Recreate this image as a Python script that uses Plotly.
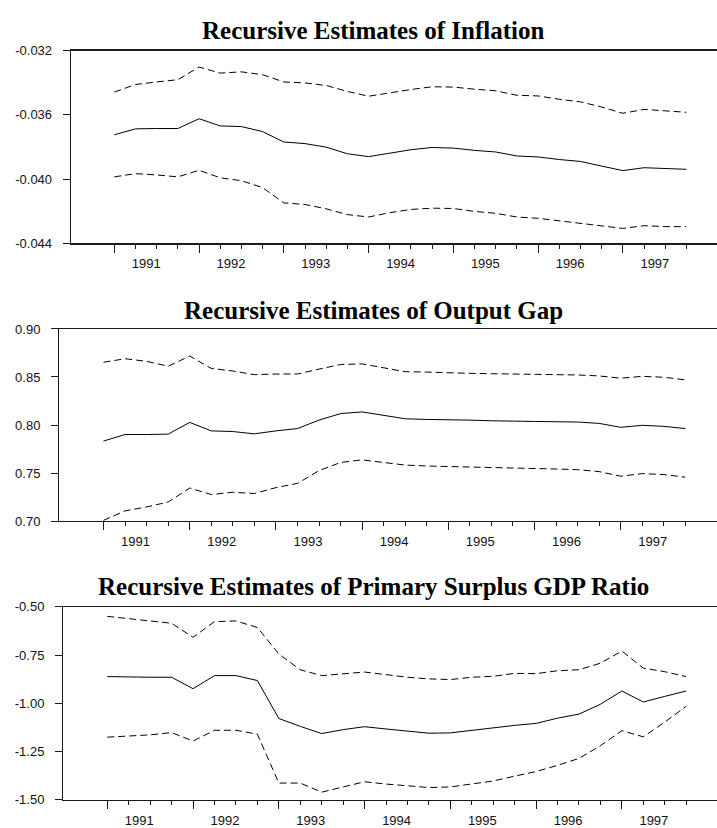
import plotly.graph_objects as go

# ---------------- data ----------------
quarters = [
    "1991Q1", "1991Q2", "1991Q3", "1991Q4",
    "1992Q1", "1992Q2", "1992Q3", "1992Q4",
    "1993Q1", "1993Q2", "1993Q3", "1993Q4",
    "1994Q1", "1994Q2", "1994Q3", "1994Q4",
    "1995Q1", "1995Q2", "1995Q3", "1995Q4",
    "1996Q1", "1996Q2", "1996Q3", "1996Q4",
    "1997Q1", "1997Q2", "1997Q3", "1997Q4",
]
year_labels = ["1991", "1992", "1993", "1994", "1995", "1996", "1997"]

infl_est = [-0.03724, -0.03687, -0.03685, -0.03685, -0.03624, -0.03669, -0.03673,
            -0.03704, -0.03769, -0.03779, -0.03801, -0.03842, -0.03860, -0.03838,
            -0.03817, -0.03803, -0.03807, -0.03821, -0.03831, -0.03856, -0.03862,
            -0.03878, -0.03890, -0.03919, -0.03947, -0.03929, -0.03935, -0.03939]
infl_upper = [-0.03458, -0.03411, -0.03395, -0.03381, -0.03302, -0.03340, -0.03332,
              -0.03350, -0.03395, -0.03401, -0.03417, -0.03454, -0.03484, -0.03462,
              -0.03442, -0.03425, -0.03427, -0.03440, -0.03450, -0.03478, -0.03482,
              -0.03503, -0.03519, -0.03551, -0.03590, -0.03566, -0.03574, -0.03584]
infl_lower = [-0.03986, -0.03966, -0.03974, -0.03986, -0.03945, -0.03992, -0.04010,
              -0.04053, -0.04148, -0.04158, -0.04185, -0.04221, -0.04236, -0.04209,
              -0.04189, -0.04181, -0.04183, -0.04201, -0.04213, -0.04236, -0.04244,
              -0.04260, -0.04272, -0.04290, -0.04307, -0.04290, -0.04296, -0.04296]

gap_est = [0.7833, 0.7901, 0.7901, 0.7905, 0.8027, 0.7939, 0.7932,
           0.7908, 0.7939, 0.7963, 0.8051, 0.8119, 0.8136, 0.8102,
           0.8065, 0.8058, 0.8058, 0.8051, 0.8044, 0.8044, 0.8037,
           0.8034, 0.8031, 0.8017, 0.7976, 0.7997, 0.7986, 0.7963]
gap_upper = [0.8653, 0.8690, 0.8663, 0.8612, 0.8718, 0.8589, 0.8562,
             0.8524, 0.8531, 0.8531, 0.8582, 0.8630, 0.8636, 0.8592,
             0.8555, 0.8551, 0.8548, 0.8538, 0.8534, 0.8531, 0.8528,
             0.8524, 0.8521, 0.8511, 0.8487, 0.8507, 0.8497, 0.8470]
gap_lower = [0.7007, 0.7106, 0.7147, 0.7198, 0.7344, 0.7276, 0.7300,
             0.7287, 0.7348, 0.7392, 0.7525, 0.7610, 0.7637, 0.7610,
             0.7583, 0.7573, 0.7569, 0.7563, 0.7559, 0.7552, 0.7549,
             0.7542, 0.7535, 0.7515, 0.7467, 0.7494, 0.7484, 0.7457]

surp_est = [-0.8616, -0.8650, -0.8650, -0.8650, -0.9244, -0.8565, -0.8565,
            -0.8820, -1.0790, -1.1197, -1.1570, -1.1367, -1.1214, -1.1333,
            -1.1452, -1.1553, -1.1536, -1.1400, -1.1299, -1.1146, -1.1044,
            -1.0772, -1.0560, -1.0050, -0.9363, -0.9932, -0.9643, -0.9363]
surp_upper = [-0.5492, -0.5611, -0.5713, -0.5849, -0.6579, -0.5764, -0.5730,
              -0.6070, -0.7445, -0.8260, -0.8566, -0.8480, -0.8379, -0.8514,
              -0.8650, -0.8735, -0.8769, -0.8650, -0.8600, -0.8447, -0.8464,
              -0.8311, -0.8260, -0.7920, -0.7292, -0.8175, -0.8362, -0.8616]
surp_lower = [-1.1757, -1.1706, -1.1638, -1.1520, -1.1960, -1.1400, -1.1400,
              -1.1604, -1.4138, -1.4138, -1.4610, -1.4340, -1.4070, -1.4190,
              -1.4290, -1.4370, -1.4340, -1.4170, -1.4030, -1.3780, -1.3540,
              -1.3220, -1.2860, -1.2200, -1.1420, -1.1740, -1.0977, -1.0153]

titles = ["Recursive Estimates of Inflation",
          "Recursive Estimates of Output Gap",
          "Recursive Estimates of Primary Surplus GDP Ratio"]

infl_ticks = [-0.044, -0.040, -0.036, -0.032]
infl_ticktext = ["-0.044", "-0.040", "-0.036", "-0.032"]
gap_ticks = [0.70, 0.75, 0.80, 0.85, 0.90]
gap_ticktext = ["0.70", "0.75", "0.80", "0.85", "0.90"]
surp_ticks = [-1.50, -1.25, -1.00, -0.75, -0.50]
surp_ticktext = ["-1.50", "-1.25", "-1.00", "-0.75", "-0.50"]

# ---------------- layout helpers ----------------
W, H = 717, 828


def qpos(q):
    return int(q[:4]) + (int(q[-1]) - 1) * 0.25


xq = [qpos(q) for q in quarters]
year_pos = [float(y) for y in year_labels]

# per panel geometry in pixels: left axis, top, bottom, x of first point, quarter spacing, title centre y
panels = [
    dict(est=infl_est, up=infl_upper, lo=infl_lower, yr=[-0.044, -0.032],
         tv=infl_ticks, tt=infl_ticktext, left=71.0, top=44.5, bottom=241.0,
         first=114.3, step=21.19, ty=23.5),
    dict(est=gap_est, up=gap_upper, lo=gap_lower, yr=[0.70, 0.90],
         tv=gap_ticks, tt=gap_ticktext, left=59.3, top=328.3, bottom=524.2,
         first=103.5, step=21.55, ty=309.0),
    dict(est=surp_est, up=surp_upper, lo=surp_lower, yr=[-1.50, -0.50],
         tv=surp_ticks, tt=surp_ticktext, left=63.3, top=611.7, bottom=808.3,
         first=107.3, step=21.44, ty=591.0),
]

tick_font = dict(family="Liberation Sans, Arial, sans-serif", size=13, color="#111111")
title_font = dict(family="Liberation Serif, Times New Roman, serif", size=25, color="#000000")
axis_col = "#1a1a1a"

fig = go.Figure()
annotations = []
layout_axes = {}

for k, p in enumerate(panels):
    n = k + 1
    xa = "x" if n == 1 else f"x{n}"
    ya = "y" if n == 1 else f"y{n}"
    xkey = "xaxis" if n == 1 else f"xaxis{n}"
    ykey = "yaxis" if n == 1 else f"yaxis{n}"

    for series, dash in ((p["up"], "7px,4px"), (p["lo"], "7px,4px"), (p["est"], "solid")):
        fig.add_trace(go.Scatter(
            x=xq, y=series, mode="lines", xaxis=xa, yaxis=ya,
            line=dict(color="black", width=1, dash=dash),
            showlegend=False, hoverinfo="skip"))

    # x range: map pixels to quarter positions
    t_left = (p["left"] - p["first"]) / p["step"]
    t_right = (W - p["first"]) / p["step"]
    x0 = 1991 + 0.25 * t_left
    x1 = 1991 + 0.25 * t_right

    yspan = p["yr"][1] - p["yr"][0]
    eps = yspan * 1e-6

    layout_axes[xkey] = dict(
        domain=[p["left"] / W, 1.0], range=[x0, x1], anchor=ya,
        showline=True, linecolor=axis_col, linewidth=1.3, mirror=True,
        showgrid=False, zeroline=False,
        tickmode="array", tickvals=year_pos, ticktext=year_labels,
        ticks="outside", ticklen=8, tickwidth=1, tickcolor=axis_col,
        ticklabelshift=int(round(1.5 * p["step"])), tickfont=tick_font,
        minor=dict(tickmode="array", tickvals=xq, ticks="outside",
                   ticklen=4, tickwidth=1, tickcolor=axis_col, showgrid=False),
    )
    layout_axes[ykey] = dict(
        domain=[1 - p["bottom"] / H, 1 - p["top"] / H],
        range=[p["yr"][0] - eps, p["yr"][1] + eps], anchor=xa,
        showline=True, linecolor=axis_col, linewidth=1.3, mirror=False,
        showgrid=False, zeroline=False,
        tickmode="array", tickvals=p["tv"], ticktext=p["tt"],
        ticks="outside", ticklen=7, tickwidth=1, tickcolor=axis_col,
        ticklabelstandoff=8, tickfont=tick_font,
    )

    annotations.append(dict(
        text="<b>" + titles[k] + "</b>", xref="paper", yref="paper",
        x=373 / W, y=1 - p["ty"] / H, xanchor="center", yanchor="middle",
        showarrow=False, font=title_font))

fig.update_layout(
    width=W, height=H,
    margin=dict(l=0, r=0, t=0, b=0),
    paper_bgcolor="white", plot_bgcolor="white",
    annotations=annotations,
    **layout_axes,
)

fig.write_html(
    "out.html",
    config={"displayModeBar": False, "staticPlot": True},
    post_script="document.body.style.margin='0';document.body.style.overflow='hidden';",
)
